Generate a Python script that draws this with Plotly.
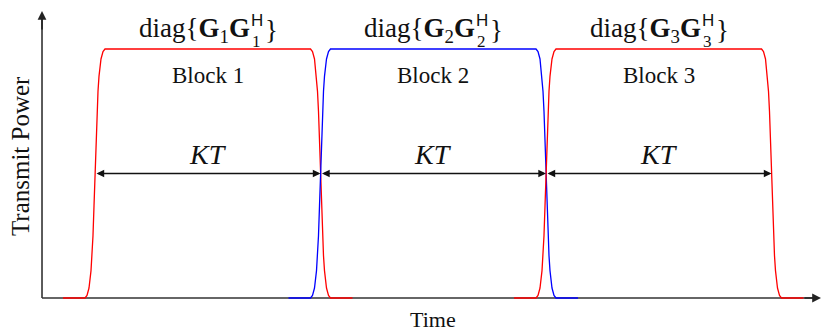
import plotly.graph_objects as go

# ---- data (time in units of KT, power normalised to 1) ----
block_starts = [0, 1, 2]
block_colors = ['#ff0000', '#0000ff', '#ff0000']
block_names = ['Block 1', 'Block 2', 'Block 3']
block_index = ['1', '2', '3']
tail = 0.142
edge_offset = [-0.0443, -0.0355, -0.0266, -0.0177, -0.0133, -0.0089, -0.0044, 0.0,
               0.0044, 0.0089, 0.0133, 0.0177, 0.0266, 0.0355, 0.0443]
edge_power = [0, 0.01, 0.04, 0.11, 0.17, 0.25, 0.37, 0.5, 0.63, 0.75, 0.83, 0.89, 0.96, 0.99, 1.0]
arrow_level = 0.5
x_axis_end = 3.2195
y_axis_end = 1.1526
y_axis_x = -0.235

X_RANGE = [-0.42129, 3.22838]
Y_RANGE = [-0.13253, 1.19679]

fig = go.Figure()

# axis lines below traces
fig.add_shape(type='line', x0=y_axis_x, x1=x_axis_end - 0.02, y0=0, y1=0,
              line=dict(color='#333333', width=1.6), layer='below')
fig.add_shape(type='line', x0=y_axis_x, x1=y_axis_x, y0=0, y1=y_axis_end - 0.03,
              line=dict(color='#333333', width=1.6), layer='below')

for b0, col in zip(block_starts, block_colors):
    b1 = b0 + 1
    t = [b0 - tail] + [b0 + o for o in edge_offset] + [b1 - o for o in edge_offset[::-1]] + [b1 + tail]
    p = [0] + edge_power + edge_power[::-1] + [0]
    fig.add_trace(go.Scatter(x=t, y=p, mode='lines', line=dict(color=col, width=1.3),
                             hoverinfo='skip', showlegend=False))

ann = []
# axis arrowheads
ann.append(dict(x=y_axis_x, y=y_axis_end, ax=y_axis_x, ay=y_axis_end - 0.08, axref='x', ayref='y',
                xref='x', yref='y', showarrow=True, arrowhead=2, arrowsize=1.1, arrowwidth=1.6,
                arrowcolor='#222222', text=''))
ann.append(dict(x=x_axis_end, y=0, ax=x_axis_end - 0.08, ay=0, axref='x', ayref='y',
                xref='x', yref='y', showarrow=True, arrowhead=2, arrowsize=1.1, arrowwidth=1.6,
                arrowcolor='#222222', text=''))

serif = 'Liberation Serif'
for b0, name, idx in zip(block_starts, block_names, block_index):
    c = b0 + 0.5
    # KT double arrow
    ann.append(dict(x=b0 + 1, y=arrow_level, ax=b0, ay=arrow_level, axref='x', ayref='y',
                    xref='x', yref='y', showarrow=True, arrowhead=2, startarrowhead=2,
                    arrowside='end+start', arrowsize=1.1, arrowwidth=1.4, arrowcolor='#111111',
                    text=''))
    ann.append(dict(x=c, y=0.578, xref='x', yref='y', showarrow=False,
                    text='<i>KT</i>', font=dict(family=serif, size=28, color='#111111')))
    ann.append(dict(x=c, y=0.8956, xref='x', yref='y', showarrow=False,
                    text=name, font=dict(family=serif, size=23, color='#111111')))
    # diag{G_i G_i^H}
    ann.append(dict(x=c, y=1.076, xref='x', yref='y', showarrow=False, xanchor='right',
                    xshift=44, text='diag{<b>G</b><sub>%s</sub><b>G</b>' % idx,
                    font=dict(family=serif, size=27, color='#111111')))
    ann.append(dict(x=c, y=1.115, xref='x', yref='y', showarrow=False, xanchor='left',
                    xshift=41, text='H', font=dict(family='Liberation Sans', size=17, color='#111111')))
    ann.append(dict(x=c, y=1.03, xref='x', yref='y', showarrow=False, xanchor='left',
                    xshift=42, text=idx, font=dict(family=serif, size=17, color='#111111')))
    ann.append(dict(x=c, y=1.076, xref='x', yref='y', showarrow=False, xanchor='left',
                    xshift=55, text='}', font=dict(family=serif, size=27, color='#111111')))

ann.append(dict(x=1.5, y=-0.088, xref='x', yref='y', showarrow=False, text='Time',
                font=dict(family=serif, size=22, color='#111111')))
ann.append(dict(x=-0.3326, y=0.57, xref='x', yref='y', showarrow=False, text='Transmit Power',
                textangle=-90, font=dict(family=serif, size=25, color='#111111')))

fig.update_layout(
    width=823, height=331, margin=dict(l=0, r=0, t=0, b=0),
    paper_bgcolor='white', plot_bgcolor='white',
    xaxis=dict(range=X_RANGE, visible=False, fixedrange=True),
    yaxis=dict(range=Y_RANGE, visible=False, fixedrange=True),
    annotations=ann, showlegend=False,
)
fig.write_html('out.html', include_plotlyjs=True, config={'displayModeBar': False})
